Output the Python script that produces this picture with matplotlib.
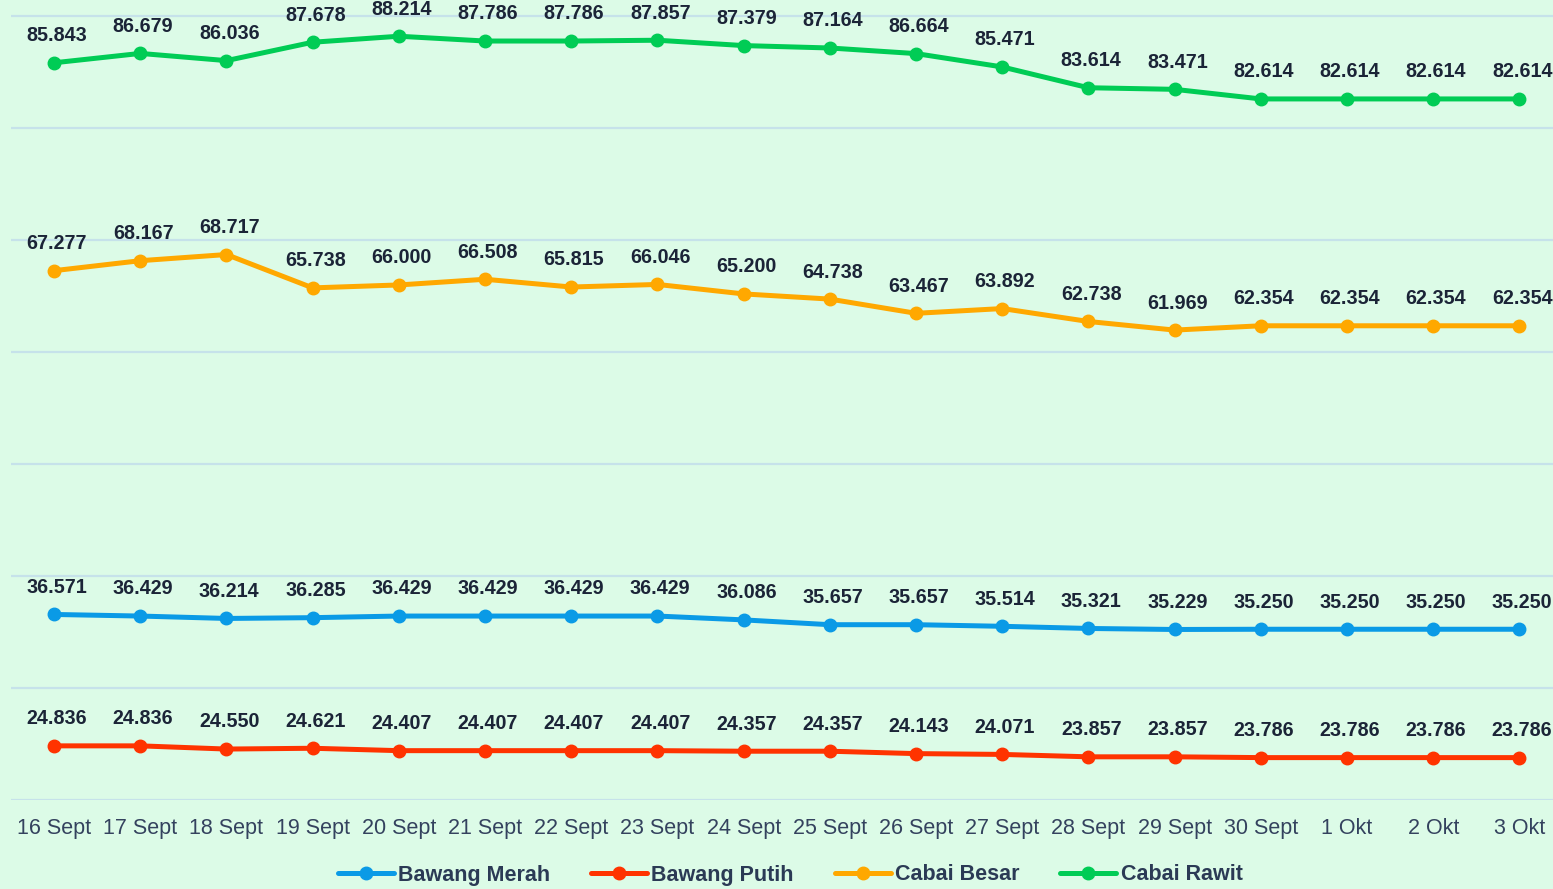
import matplotlib.pyplot as plt

plt.rcParams['font.family'] = ['Liberation Sans', 'DejaVu Sans']

# tanggal
tanggal = ['16 Sept', '17 Sept', '18 Sept', '19 Sept', '20 Sept', '21 Sept',
           '22 Sept', '23 Sept', '24 Sept', '25 Sept', '26 Sept', '27 Sept',
           '28 Sept', '29 Sept', '30 Sept', '1 Okt', '2 Okt', '3 Okt']

# harga (ribu rupiah)
bawang_merah = [36.571, 36.429, 36.214, 36.285, 36.429, 36.429, 36.429, 36.429,
                36.086, 35.657, 35.657, 35.514, 35.321, 35.229, 35.250, 35.250,
                35.250, 35.250]
bawang_putih = [24.836, 24.836, 24.550, 24.621, 24.407, 24.407, 24.407, 24.407,
                24.357, 24.357, 24.143, 24.071, 23.857, 23.857, 23.786, 23.786,
                23.786, 23.786]
cabai_besar = [67.277, 68.167, 68.717, 65.738, 66.000, 66.508, 65.815, 66.046,
               65.200, 64.738, 63.467, 63.892, 62.738, 61.969, 62.354, 62.354,
               62.354, 62.354]
cabai_rawit = [85.843, 86.679, 86.036, 87.678, 88.214, 87.786, 87.786, 87.857,
               87.379, 87.164, 86.664, 85.471, 83.614, 83.471, 82.614, 82.614,
               82.614, 82.614]

seri = [('Bawang Merah', bawang_merah, '#0a9ae6'),
        ('Bawang Putih', bawang_putih, '#ff3300'),
        ('Cabai Besar', cabai_besar, '#ffa800'),
        ('Cabai Rawit', cabai_rawit, '#00cc55')]

bg = '#dcfbe7'
fig = plt.figure(figsize=(15.53, 8.89), dpi=100, facecolor=bg)
ax = fig.add_axes([11 / 1553, 89 / 889, 1 - 11 / 1553, 800 / 889])
ax.set_facecolor(bg)

x = list(range(len(tanggal)))
for nama, nilai, warna in seri:
    ax.plot(x, nilai, color=warna, lw=3.6, marker='o', ms=9, label=nama,
            solid_capstyle='round')
    for xi, v in zip(x, nilai):
        ax.annotate(f'{v:.3f}', (xi, v), xytext=(2, 19.5), textcoords='offset points',
                    ha='center', va='center', fontsize=14.2, fontweight='bold',
                    color='#1b2437', annotation_clip=False)

ax.set_xlim(-0.5, 17.39)
ax.set_ylim(20, 91.45)
ax.set_yticks(range(20, 91, 10))
ax.set_yticklabels([])
ax.set_xticks(x)
ax.set_xticklabels(tanggal, fontsize=15.5, color='#34425e')
ax.tick_params(length=0, pad=13)
ax.grid(axis='y', color='#c6e2ea', lw=1.6)
ax.set_axisbelow(True)
for s in ax.spines.values():
    s.set_visible(False)

leg = fig.legend(loc='center', bbox_to_anchor=(790 / 1553, 1 - 875 / 889), ncol=4,
                 frameon=False, handlelength=2.6, columnspacing=1.9,
                 handletextpad=0.2, prop={'size': 15.5, 'weight': 'bold'})
for t in leg.get_texts():
    t.set_color('#2b3a55')

fig.savefig('out.png', dpi=100, facecolor=bg)
